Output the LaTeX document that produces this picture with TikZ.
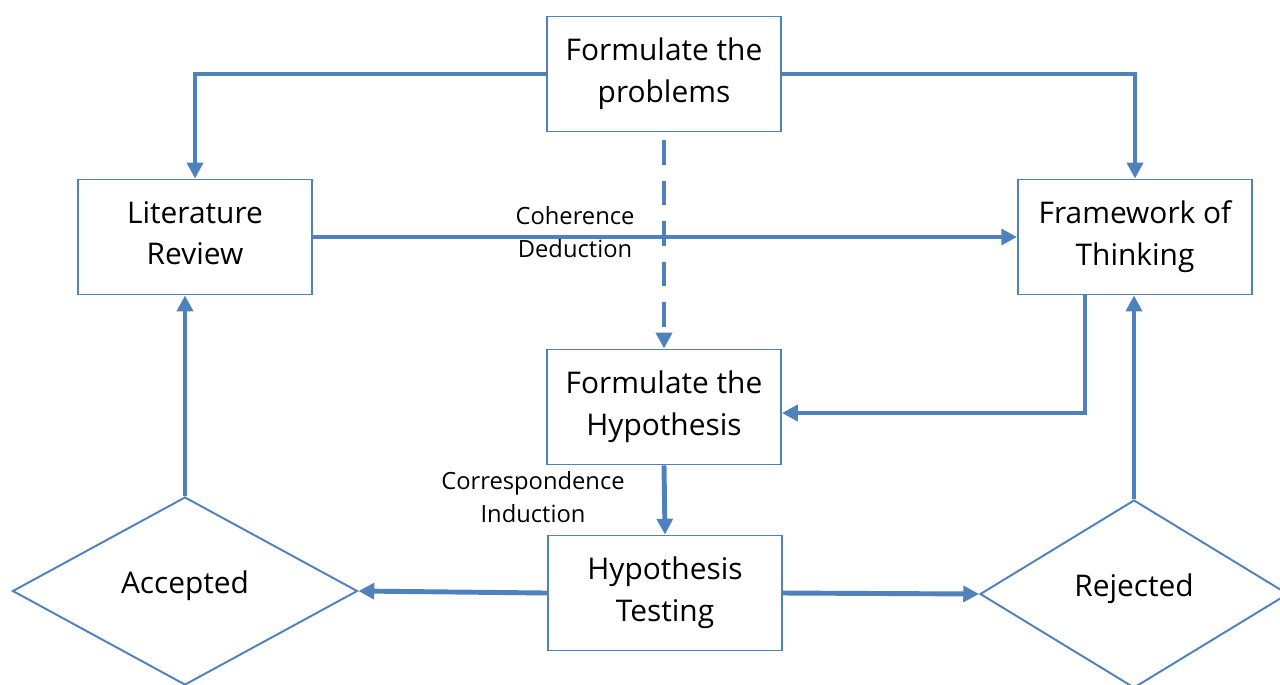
\documentclass[tikz,border=0pt]{standalone}
\usepackage{fontspec}
\setmainfont{Open Sans}
\usetikzlibrary{positioning, calc, shapes.geometric, arrows.meta}
\definecolor{flowblue}{HTML}{4F81BD}

\begin{document}
\begin{tikzpicture}[x=0.02cm, y=-0.02cm,
	box/.style={draw=flowblue, line width=1.1pt, fill=white, minimum width=4.68cm, minimum height=2.3cm, align=center, text depth=4.5pt, font=\fontsize{17}{23.5}\selectfont},
	decision/.style={draw=flowblue, line width=1.1pt, fill=white, diamond, inner sep=0pt, minimum height=3.76cm, text height=12.5pt, text depth=10pt, font=\fontsize{17}{23.5}\selectfont},
	flow/.style={draw=flowblue, line width=2.8pt, -{Triangle[length=9pt, width=9pt]}},
	note/.style={align=center, font=\fontsize{13.5}{18.7}\selectfont}]
			\clip (0,0) rectangle (1280,684);
			\node (prob) [box] at (664,74) {Formulate the\\problems};
			\node (lit) [box] at (195,237) {Literature\\Review};
			\node (frame) [box] at (1135,237) {Framework of\\Thinking};
			\node (hypf) [box] at (664,407) {Formulate the\\Hypothesis};
			\node (test) [box] at (665,593) {Hypothesis\\Testing};
			\node (acc) [decision, minimum width=6.9cm] at (185,591) {Accepted};
			\node (rej) [decision, minimum width=6.16cm] at (1134,594) {Rejected};

			\draw [flow] (prob.west) -| (lit.north);
			\draw [flow] (prob.east) -| (frame.north);
			\draw [flow, dashed, dash pattern=on 14pt off 9pt] ($(prob.south)+(0,8)$) -- (hypf.north);
			\draw [flow] (lit.east) -- (frame.west);
			\draw [flow] ($(frame.south)+(-50,0)$) |- ($(hypf.east)+(0,6)$);
			\draw [flow] (hypf.south) -- (test.north);
			\draw [flow] (test.west) -- (acc.east);
			\draw [flow] (test.east) -- (rej.west);
			\draw [flow] (acc.north) -- (acc.north |- lit.south);
			\draw [flow] (rej.north) -- (rej.north |- frame.south);

			\node (cohere) [note] at (575,232) {Coherence\\Deduction};
			\node (corresp) [note] at (533,497) {Correspondence\\Induction};
		\end{tikzpicture}
\end{document}
